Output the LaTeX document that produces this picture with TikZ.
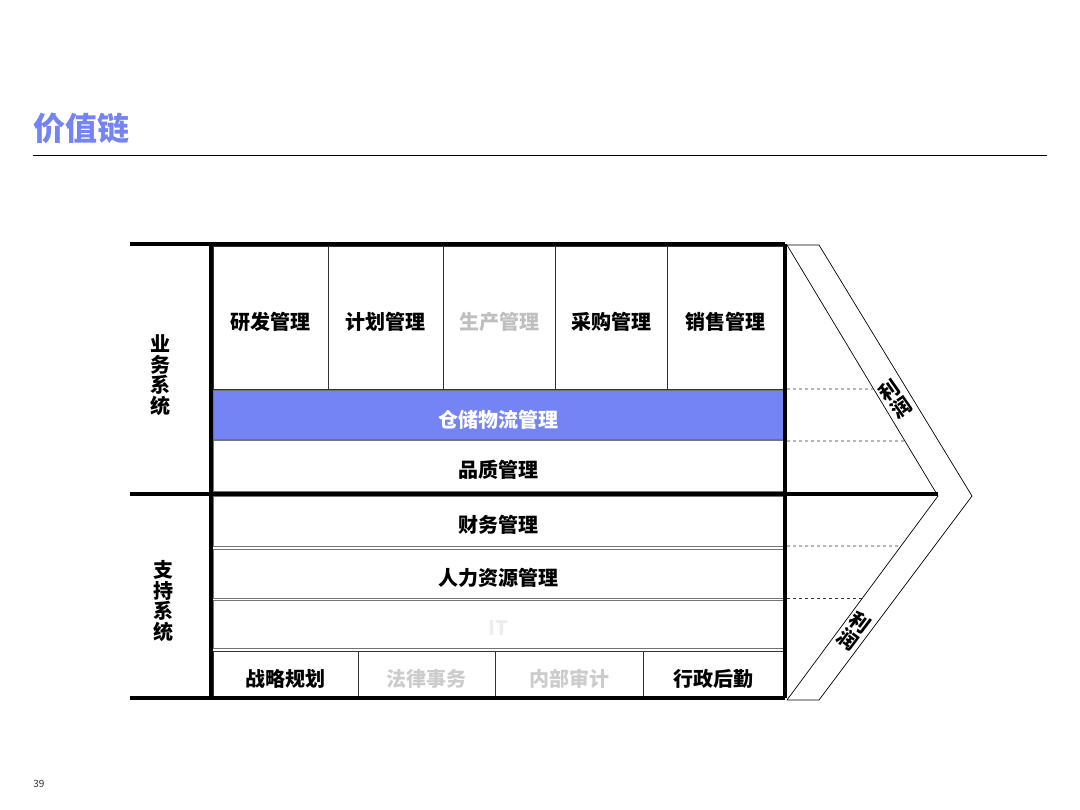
\documentclass[tikz,border=0pt]{standalone}
\usepackage{fontspec}
\usetikzlibrary{calc}
\newfontfamily\cjk{Noto Sans CJK SC}
\definecolor{chainblue}{HTML}{7584F5}
\tikzset{
  cell/.style={draw=black!80, line width=0.7pt, inner sep=0pt, text height=25pt, text depth=1.8pt,
    font=\cjk\bfseries\fontsize{20}{24}\selectfont},
  row/.style={cell, draw=black!55, line width=1pt, minimum width=570},
  side/.style={align=center, inner sep=0pt, font=\cjk\bfseries\fontsize{20}{20.5}\selectfont},
  profit/.style={align=center, inner sep=0pt, font=\cjk\bfseries\fontsize{20}{21}\selectfont},
  frame/.style={line width=3.5pt},
  edge/.style={line width=0.7pt},
  gap/.style={dashed, line width=0.7pt, black!80}
}
\begin{document}
\begin{tikzpicture}[x=1pt, y=-1pt]
   \useasboundingbox (0,0) rectangle (1080,810);
   % title
   \node[text=chainblue, font=\cjk\bfseries\fontsize{32}{36}\selectfont] (title) at (82,128) {价值链};
   \draw[line width=1pt] (33,156) -- (1047,156);
   \node[font=\cjk\fontsize{10}{12}\selectfont, text=black!80] (page) at (39,784) {39};
   % business cells
   \foreach \a/\b/\n/\t/\c in
     {213/328/yf/研发管理/black,
      328/443/jh/计划管理/black,
      443/555/sc/生产管理/black!25,
      555/667/cg/采购管理/black,
      667/783/xs/销售管理/black}
     \node[cell, text=\c, minimum width={\b-\a}, minimum height=143] (\n) at ({(\a+\b)/2},317.5) {\t};
   \node[row, fill=chainblue, text=white, minimum height=49] (cc) at (498,415.5) {仓储物流管理};
   \node[row, minimum height=50] (pz) at (498,466) {品质管理};
   % support cells
   \node[row, minimum height=50] (cw) at (498,521) {财务管理};
   \node[row, minimum height=49] (rl) at (498,573.5) {人力资源管理};
   \node[row, text=black!7, minimum height=48] (it) at (498,624) {IT};
   \foreach \a/\b/\n/\t/\c in
     {213/358/zl/战略规划/black,
      358/495/fl/法律事务/black!20,
      495/643/nb/内部审计/black!20,
      643/783/xz/行政后勤/black}
     \node[cell, text=\c, minimum width={\b-\a}, minimum height=47] (\n) at ({(\a+\b)/2},674.5) {\t};
   % frame
   \draw[frame] (130,244) -- (785,244);
   \draw[frame] (130,698) -- (785,698);
   \draw[frame] (211,244) -- (211,698);
   \draw[frame] (785,244) -- (785,698);
   \draw[frame] (130,494) -- (938,494);
   \node[side] (yw) at (160,375) {业\\务\\系\\统};
   \node[side] (zc) at (163,601) {支\\持\\系\\统};
   % margin chevron
   \coordinate (ti) at (787,245);
   \coordinate (to) at (819,245);
   \coordinate (ap) at (938,496);
   \coordinate (ao) at (972,496);
   \coordinate (bi) at (787,700);
   \coordinate (bo) at (819,700);
   \draw[edge] (ti) -- (to) -- (ao) -- (bo) -- (bi);
   \draw[edge] (ti) -- (ap) -- (bi);
   \draw[gap] (787,389) -- ($(ti)!{144/251}!(ap)$);
   \draw[gap] (787,441) -- ($(ti)!{196/251}!(ap)$);
   \draw[gap] (787,546) -- ($(ap)!{50/204}!(bi)$);
   \draw[gap] (787,598) -- ($(ap)!{102/204}!(bi)$);
   \node[profit, rotate=35] (lr1) at (895,399) {利\\润};
   \node[profit, rotate=-37] (lr2) at (854,631) {利\\润};
\end{tikzpicture}
\end{document}
